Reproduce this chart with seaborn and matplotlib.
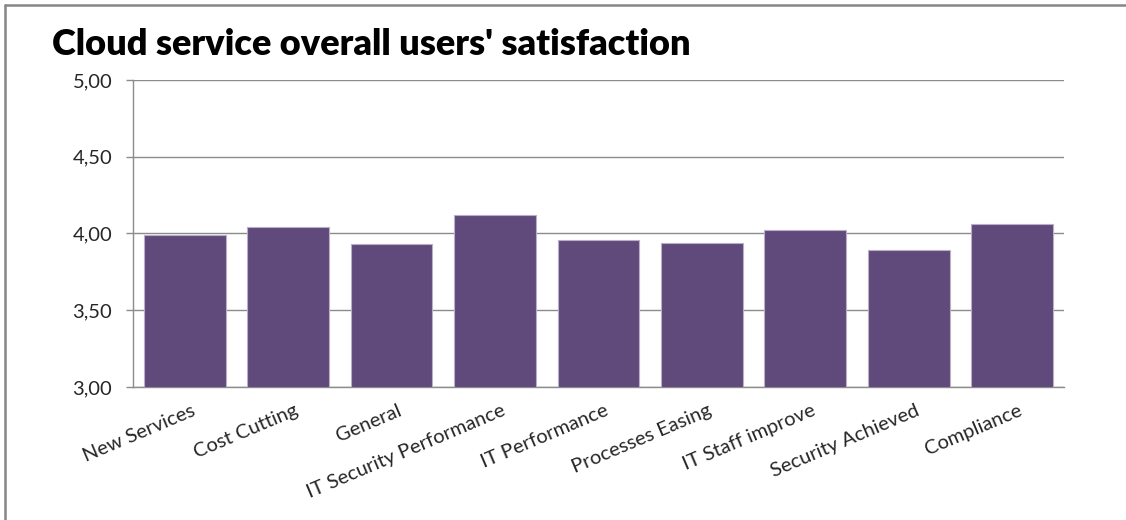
import matplotlib
matplotlib.use("Agg")
import matplotlib.pyplot as plt
import matplotlib.ticker as mticker
import seaborn as sns
import pandas as pd

categories = ["New Services", "Cost Cutting", "General", "IT Security Performance",
              "IT Performance", "Processes Easing", "IT Staff improve",
              "Security Achieved", "Compliance"]
scores = [3.99, 4.04, 3.93, 4.12, 3.96, 3.935, 4.02, 3.89, 4.06]
y_ticks = [3.0, 3.5, 4.0, 4.5, 5.0]

df = pd.DataFrame({"category": categories, "score": scores})

sns.set_style("white")
plt.rcParams["font.family"] = ["Lato", "DejaVu Sans"]

fig = plt.figure(figsize=(11.26, 5.2), dpi=100)
ax = fig.add_axes([0.1181, 0.2558, 0.8268, 0.5904])

sns.barplot(data=df, x="category", y="score", color="#604A7B", saturation=1,
            width=0.79, edgecolor="#B9AFC8", linewidth=0.8, ax=ax, zorder=3)

ax.set_ylim(3.0, 5.0)
ax.set_xlim(-0.5, len(categories) - 0.5)
ax.set_yticks(y_ticks)
ax.yaxis.set_major_formatter(mticker.FuncFormatter(lambda v, p: f"{v:.2f}".replace(".", ",")))
ax.yaxis.grid(True, color="#8C8C8C", linewidth=1, zorder=0)
ax.set_axisbelow(True)

for s in ["top", "right"]:
    ax.spines[s].set_visible(False)
for s in ["left", "bottom"]:
    ax.spines[s].set_color("#8C8C8C")
    ax.spines[s].set_linewidth(1)

# category ticks sit between bars
ax.set_xticks([i - 0.5 for i in range(len(categories) + 1)], minor=True)
ax.tick_params(axis="x", which="minor", length=5, color="#8C8C8C", width=1, direction="out")
ax.tick_params(axis="x", which="major", length=0, labelsize=14.5, pad=2)
ax.tick_params(axis="y", length=5, color="#8C8C8C", width=1, direction="out",
               labelsize=14.5, pad=10, left=True)
ax.set_xticks(range(len(categories)))
ax.set_xticklabels(categories, rotation=23, ha="right", rotation_mode="anchor")
for lbl in ax.get_xticklabels():
    lbl.set_transform(lbl.get_transform() + matplotlib.transforms.ScaledTranslation(0.06, -0.12, fig.dpi_scale_trans))
ax.set_xlabel("")
ax.set_ylabel("")

fig.text(0.046, 0.915, "Cloud service overall users' satisfaction", fontsize=26,
         fontweight="heavy", ha="left", va="center", color="black")

# chart frame (top and left edges visible in the crop)
fig.add_artist(plt.Line2D([0.004, 1.0], [0.99, 0.99], transform=fig.transFigure,
                          color="#868686", linewidth=1.8))
fig.add_artist(plt.Line2D([0.004, 0.004], [0.0, 0.99], transform=fig.transFigure,
                          color="#868686", linewidth=1.8))

fig.savefig("out.png", dpi=100)
